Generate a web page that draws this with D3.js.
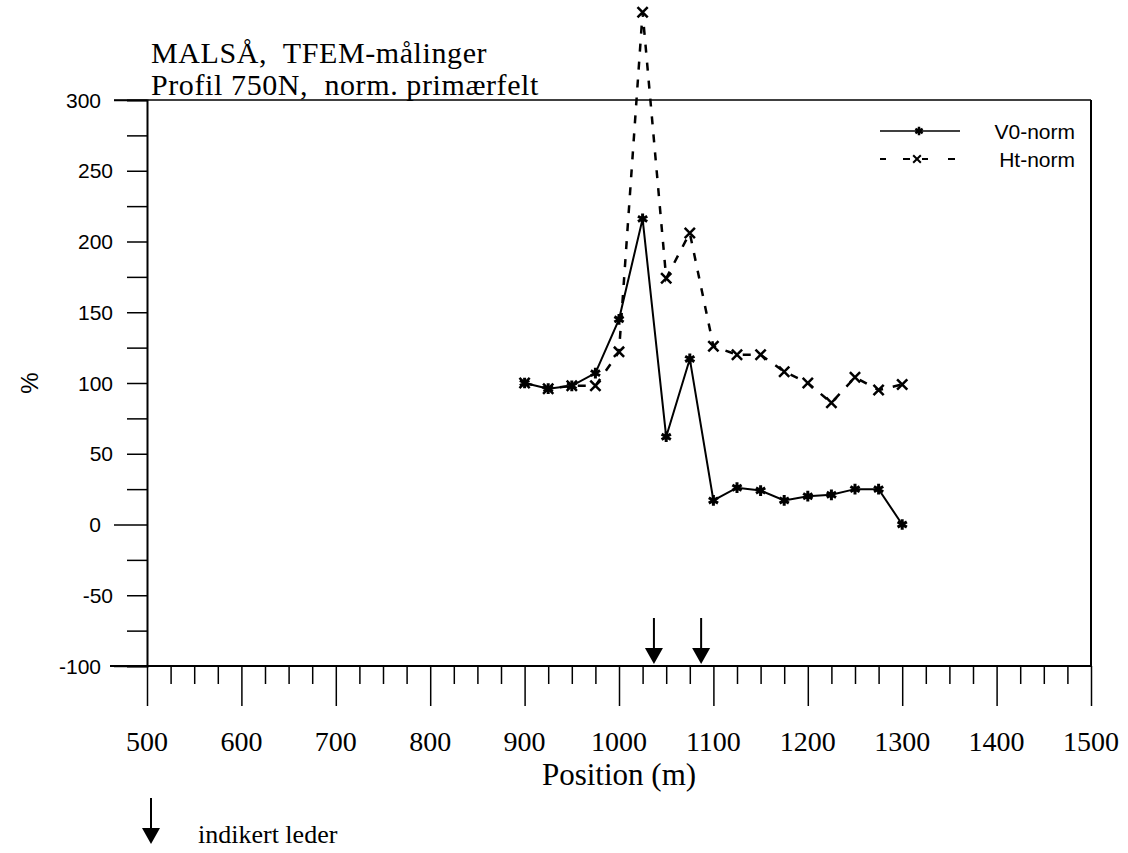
<!DOCTYPE html>
<html>
<head>
<meta charset="utf-8">
<script src="https://cdn.jsdelivr.net/npm/d3@7"></script>
<style>
  body { margin: 0; background: #fff; }
  svg { display: block; }
</style>
</head>
<body>
<div id="chart"></div>
<script>
// positions (m) shared by both series
var positions = [900, 925, 950, 975, 1000, 1025, 1050, 1075, 1100, 1125, 1150, 1175, 1200, 1225, 1250, 1275, 1300];
var v0Norm = [100, 96, 98, 107, 145, 216, 62, 117, 17, 26, 24, 17, 20, 21, 25, 25, 0];
var htNorm = [100, 96, 98, 98, 122, 362, 174, 206, 126, 120, 120, 108, 100, 86, 104, 95, 99];
// indicated conductors (arrows)
var lederPos = [1037, 1087];
var yTicks = [-100, -50, 0, 50, 100, 150, 200, 250, 300];
var xTicks = [500, 600, 700, 800, 900, 1000, 1100, 1200, 1300, 1400, 1500];

var W = 1128, H = 853;
var svg = d3.select("#chart").append("svg")
    .attr("width", W)
    .attr("height", H);

var x = d3.scaleLinear().domain([500, 1500]).range([147, 1091]);
var y = d3.scaleLinear().domain([-100, 300]).range([666, 100]);

var serif = "'Liberation Serif', 'Times New Roman', serif";
var sans = "'Liberation Sans', Arial, sans-serif";

// frame: top + right border
svg.append("line")
    .attr("x1", x(500) - 33).attr("x2", x(1500))
    .attr("y1", y(300)).attr("y2", y(300))
    .attr("stroke", "#000").attr("stroke-width", 1.5);
svg.append("line")
    .attr("x1", x(1500)).attr("x2", x(1500))
    .attr("y1", y(300)).attr("y2", y(-100))
    .attr("stroke", "#000").attr("stroke-width", 2);

// y axis, ticks every 25 pointing left
var yAxis = d3.axisLeft(y)
    .tickValues(d3.range(-100, 301, 25))
    .tickSize(20)
    .tickFormat("");
var gy = svg.append("g")
    .attr("transform", "translate(" + x(500) + ",0)")
    .call(yAxis);
gy.select(".domain").attr("stroke-width", 2);
gy.selectAll(".tick line").attr("stroke-width", 1.5)
    .attr("x2", function (d) { return (d === 0 || d === 300 || d === -100) ? -33 : -20; });

gy.selectAll(".ylab")
    .data(yTicks)
    .enter().append("text")
    .attr("class", "ylab")
    .attr("x", function (d) { return (d === 0 || d === 300 || d === -100) ? -46 : -34; })
    .attr("y", function (d) { return y(d); })
    .attr("dy", "0.36em")
    .attr("text-anchor", "end")
    .attr("fill", "#000")
    .attr("font-family", sans)
    .attr("font-size", "21px")
    .text(function (d) { return d; });

// x axis, ticks every 25 pointing down
var xAxis = d3.axisBottom(x)
    .tickValues(d3.range(500, 1501, 25))
    .tickSize(18)
    .tickFormat("");
var gx = svg.append("g")
    .attr("transform", "translate(0," + y(-100) + ")")
    .call(xAxis);
gx.select(".domain").remove();
gx.append("line")
    .attr("x1", x(500) - 37).attr("x2", x(1500))
    .attr("stroke", "#000").attr("stroke-width", 2);
gx.selectAll(".tick line").attr("stroke-width", 1.5)
    .attr("y2", function (d) { return d % 100 === 0 ? 40 : 18; });

gx.selectAll(".xlab")
    .data(xTicks)
    .enter().append("text")
    .attr("class", "xlab")
    .attr("x", function (d) { return x(d); })
    .attr("y", 85)
    .attr("text-anchor", "middle")
    .attr("fill", "#000")
    .attr("font-family", serif)
    .attr("font-size", "28px")
    .text(function (d) { return d; });

svg.append("text")
    .attr("x", x(1000))
    .attr("y", 785)
    .attr("text-anchor", "middle")
    .attr("font-family", serif)
    .attr("font-size", "31px")
    .text("Position (m)");

svg.append("text")
    .attr("transform", "translate(38," + y(100) + ") rotate(-90)")
    .attr("text-anchor", "middle")
    .attr("font-family", sans)
    .attr("font-size", "24px")
    .text("%");

// title
svg.append("text")
    .attr("x", 151).attr("y", 63)
    .attr("font-family", serif)
    .attr("font-size", "30px")
    .attr("letter-spacing", "0.6px")
    .attr("xml:space", "preserve")
    .text("MALSÅ,  TFEM-målinger");
svg.append("text")
    .attr("x", 151).attr("y", 95)
    .attr("font-family", serif)
    .attr("font-size", "30px")
    .attr("letter-spacing", "0.6px")
    .attr("xml:space", "preserve")
    .text("Profil 750N,  norm. primærfelt");

// series
var v0Data = positions.map(function (p, i) { return { x: p, y: v0Norm[i] }; });
var htData = positions.map(function (p, i) { return { x: p, y: htNorm[i] }; });

var line = d3.line()
    .x(function (d) { return x(d.x); })
    .y(function (d) { return y(d.y); });

svg.append("path")
    .datum(htData)
    .attr("d", line)
    .attr("fill", "none")
    .attr("stroke", "#000")
    .attr("stroke-width", 2.5)
    .attr("stroke-dasharray", "8,10");

svg.append("path")
    .datum(v0Data)
    .attr("d", line)
    .attr("fill", "none")
    .attr("stroke", "#000")
    .attr("stroke-width", 2);

var cross = d3.symbol().type(d3.symbolX).size(70);
var star = d3.symbol().type(d3.symbolAsterisk).size(80);

svg.selectAll(".ht-mark")
    .data(htData)
    .enter().append("path")
    .attr("class", "ht-mark")
    .attr("transform", function (d) { return "translate(" + x(d.x) + "," + y(d.y) + ")"; })
    .attr("d", cross)
    .attr("fill", "none")
    .attr("stroke", "#000")
    .attr("stroke-width", 2.5);

svg.selectAll(".v0-mark")
    .data(v0Data)
    .enter().append("path")
    .attr("class", "v0-mark")
    .attr("transform", function (d) { return "translate(" + x(d.x) + "," + y(d.y) + ")"; })
    .attr("d", star)
    .attr("fill", "none")
    .attr("stroke", "#000")
    .attr("stroke-width", 3);

// legend
var lg = svg.append("g");
lg.append("line")
    .attr("x1", 880).attr("x2", 960).attr("y1", 131).attr("y2", 131)
    .attr("stroke", "#000").attr("stroke-width", 1.5);
lg.append("path")
    .attr("transform", "translate(919,131)")
    .attr("d", d3.symbol().type(d3.symbolAsterisk).size(50))
    .attr("fill", "none").attr("stroke", "#000").attr("stroke-width", 2.5);
lg.append("line")
    .attr("x1", 880).attr("x2", 955).attr("y1", 159).attr("y2", 159)
    .attr("stroke", "#000").attr("stroke-width", 2)
    .attr("stroke-dasharray", "6,17,7,12,6,20,7");
lg.append("path")
    .attr("transform", "translate(917,159)")
    .attr("d", d3.symbol().type(d3.symbolX).size(40))
    .attr("fill", "none").attr("stroke", "#000").attr("stroke-width", 2);
lg.append("text")
    .attr("x", 1075).attr("y", 131).attr("dy", "0.36em")
    .attr("text-anchor", "end")
    .attr("font-family", sans).attr("font-size", "21px")
    .text("V0-norm");
lg.append("text")
    .attr("x", 1075).attr("y", 159).attr("dy", "0.36em")
    .attr("text-anchor", "end")
    .attr("font-family", sans).attr("font-size", "21px")
    .text("Ht-norm");

// arrows for indicated conductors
function arrow(g, cx, tipY) {
    g.append("line")
        .attr("x1", cx).attr("x2", cx)
        .attr("y1", tipY - 46).attr("y2", tipY - 12)
        .attr("stroke", "#000").attr("stroke-width", 2);
    g.append("path")
        .attr("d", "M" + (cx - 9) + "," + (tipY - 16) + "L" + (cx + 9) + "," + (tipY - 16) + "L" + cx + "," + tipY + "Z")
        .attr("fill", "#000");
}
var ag = svg.append("g");
lederPos.forEach(function (p) { arrow(ag, x(p), y(-100) - 2); });

// bottom key
arrow(ag, 151, 844);
svg.append("text")
    .attr("x", 198).attr("y", 843)
    .attr("font-family", serif)
    .attr("font-size", "26px")
    .text("indikert leder");
</script>
</body>
</html>
